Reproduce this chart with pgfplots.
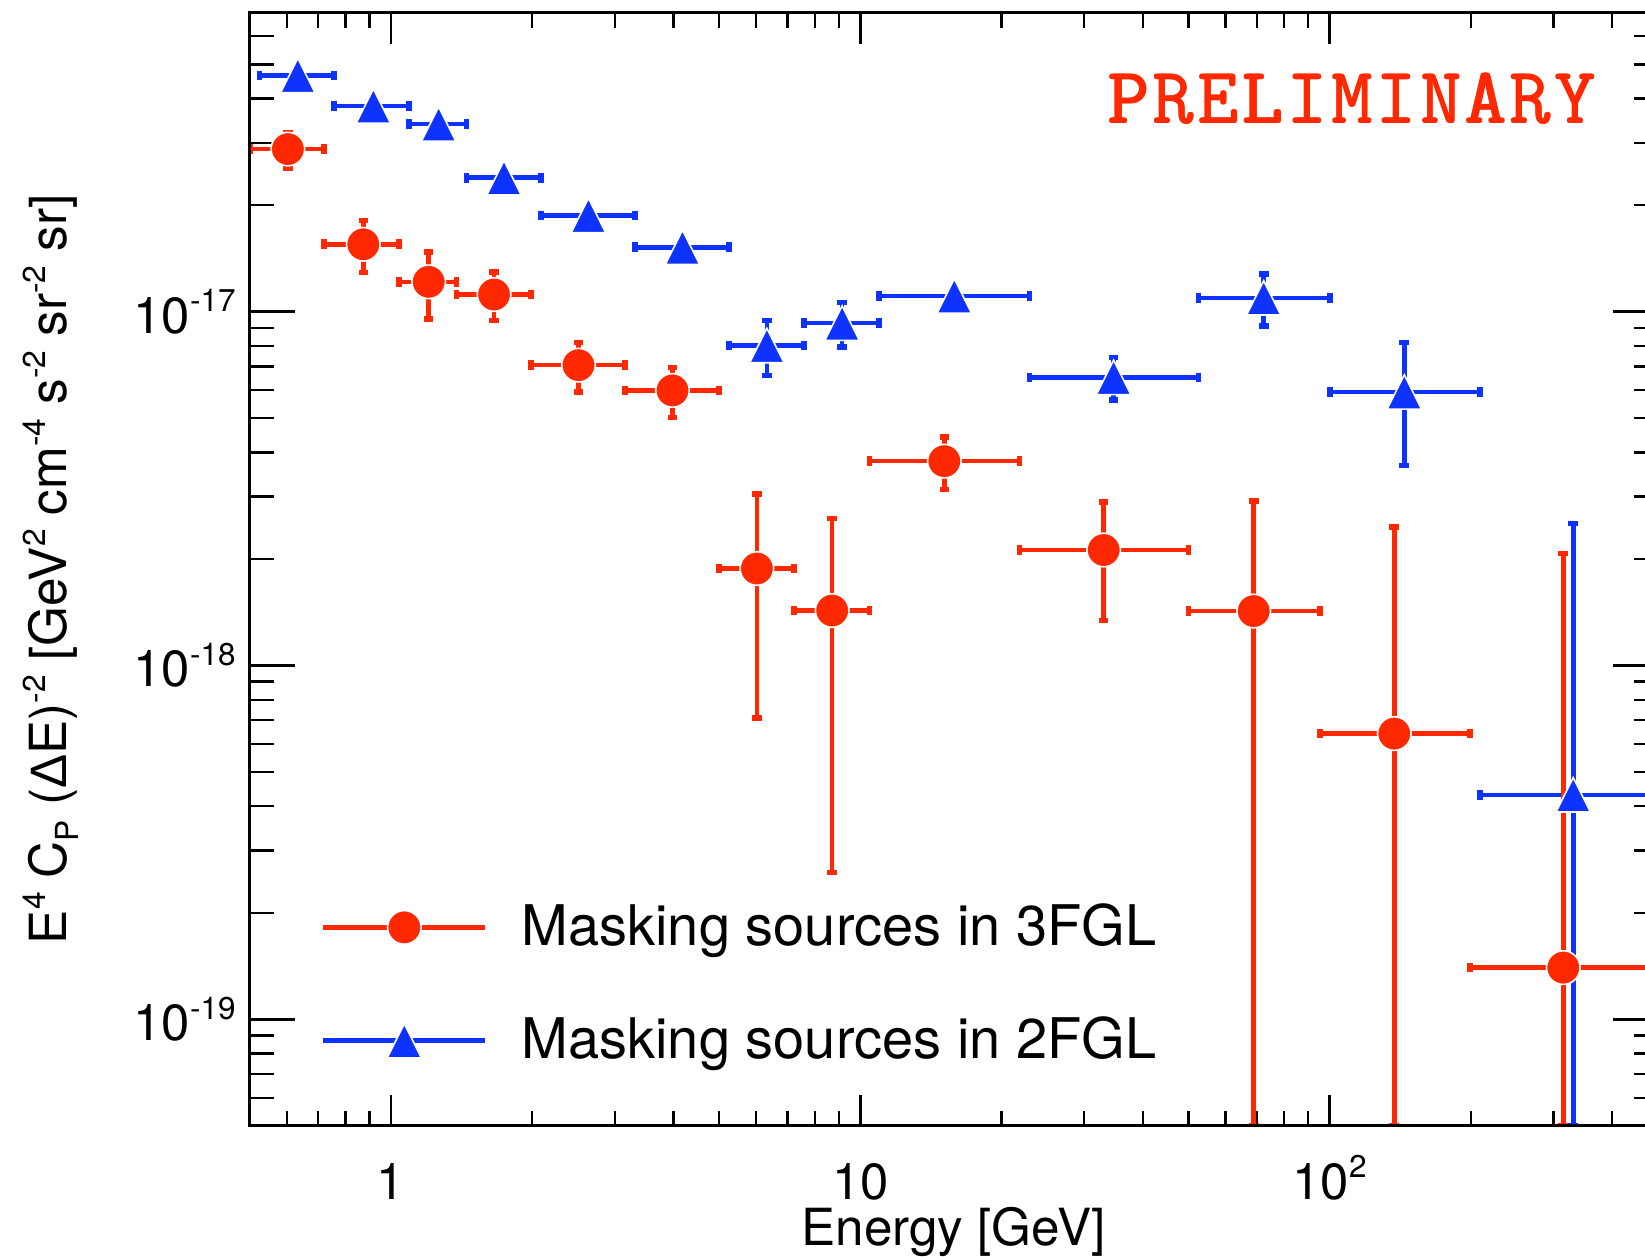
\documentclass[border=0pt]{standalone}
\usepackage{fontspec}
\setmainfont{TeX Gyre Heros}
\newfontfamily\grk{Liberation Sans}
\usepackage{pgfplots}
\pgfplotsset{compat=1.18}
\usepackage{pgfplotstable}

\definecolor{fgred}{HTML}{FF2800}
\definecolor{fgblue}{HTML}{0F33FF}

% superscript / subscript as in the IDL labels
\newcommand\su[1]{\raisebox{0.42em}{\scalebox{0.62}{#1}}}
\newcommand\sd[1]{\raisebox{-0.22em}{\scalebox{0.62}{#1}}}
\newcommand\ls{\kern0.96pt}
\newcommand\prelim{P\ls R\ls E\ls L\ls I\ls M\ls I\ls N\ls A\ls R\ls Y}

% triangle centred on the data point
\pgfdeclareplotmark{tri}{%
 \pgfpathmoveto{\pgfqpoint{0pt}{\pgfplotmarksize}}%
 \pgfpathlineto{\pgfqpoint{-\pgfplotmarksize}{-\pgfplotmarksize}}%
 \pgfpathlineto{\pgfqpoint{\pgfplotmarksize}{-\pgfplotmarksize}}%
 \pgfpathclose\pgfusepathqfillstroke}

% 3FGL mask
\pgfplotstableread{
x y exm exp eym eyp
0.603 2.88e-17 0.103 0.117 0.33e-17 0.33e-17
0.873 1.55e-17 0.153 0.167 0.26e-17 0.26e-17
1.203 1.214e-17 0.163 0.177 0.26e-17 0.26e-17
1.658 1.118e-17 0.278 0.332 0.175e-17 0.175e-17
2.509 7.06e-18 0.519 0.641 1.13e-18 1.13e-18
3.98 5.99e-18 0.83 1.02 0.97e-18 0.97e-18
6.02 1.88e-18 1.02 1.21 1.17e-18 1.17e-18
8.71 1.43e-18 1.48 1.74 1.17e-18 1.17e-18
15.1 3.78e-18 4.65 6.73 0.64e-18 0.64e-18
33.0 2.12e-18 11.17 17.0 0.78e-18 0.78e-18
68.9 1.425e-18 18.9 26.37 1.375e-18 1.49e-18
137.3 6.42e-19 42.03 61.75 5.92e-19 1.82e-18
314.6 1.40e-19 115.6 185.4 0.9e-19 1.93e-18
}\redtab

% 2FGL mask
\pgfplotstableread{
x y exm exp eym eyp
0.633 4.65e-17 0.108 0.123 0.15e-17 0.15e-17
0.917 3.81e-17 0.161 0.175 0.12e-17 0.12e-17
1.263 3.39e-17 0.171 0.186 0.11e-17 0.11e-17
1.741 2.39e-17 0.292 0.349 0.10e-17 0.10e-17
2.634 1.87e-17 0.545 0.674 0.08e-17 0.08e-17
4.179 1.52e-17 0.871 1.071 0.07e-17 0.07e-17
6.321 8.02e-18 1.071 1.271 1.42e-18 1.42e-18
9.146 9.28e-18 1.555 1.827 1.33e-18 1.33e-18
15.86 1.108e-17 4.888 7.062 0.05e-17 0.05e-17
34.65 6.52e-18 11.73 17.85 0.90e-18 0.90e-18
72.35 1.094e-17 19.85 27.68 1.82e-18 1.82e-18
144.2 5.93e-18 44.17 64.8 2.26e-18 2.26e-18
330.3 4.31e-19 121.3 194.7 3.81e-19 2.09e-18
}\bluetab

\pgfplotsset{
 legend image code/.code={\draw[mark repeat=2,mark phase=2,#1]
  plot coordinates {(0pt,0pt) (20.25pt,0pt) (40.5pt,0pt)};},
}

\begin{document}
\begin{tikzpicture}
\begin{axis}[
 at={(0,0)}, anchor=south west,
 scale only axis, width=352pt, height=278.3pt,
 xmode=log, ymode=log,
 xmin=0.5, xmax=500, ymin=5e-20, ymax=7e-17,
 axis line style={line width=0.75pt},
 tick style={black, line width=0.6pt},
 tick label style={font=\fontsize{12.7}{15}\selectfont},
 xmajorticks=false, xminorticks=false,
 major tick length=11.25pt, minor tick length=6pt,
 ytick={1e-19,1e-18,1e-17},
 yticklabels={10\su{-19},10\su{-18},10\su{-17}},
 minor ytick={6e-20,7e-20,8e-20,9e-20,2e-19,3e-19,4e-19,5e-19,6e-19,7e-19,8e-19,9e-19,2e-18,3e-18,4e-18,5e-18,6e-18,7e-18,8e-18,9e-18,2e-17,3e-17,4e-17,5e-17,6e-17},
 ylabel={E\su{4} C\sd{P} ({\grk Δ}E)\su{-2} [GeV\su{2} cm\su{-4} s\su{-2} sr\su{-2} sr]},
 ylabel style={at={(axis description cs:-0.1298,0.5)}, anchor=base,
  font=\fontsize{12.8}{15}\selectfont},
 legend cell align=left,
 legend style={draw=none, fill=none, inner sep=0pt,
  at={(0.050,0.1273)}, anchor=west,
  row sep=12.4pt, column sep=6.5pt,
  font=\fontsize{14}{16.8}\selectfont},
]
% blue first: the red series lies on top of it
\addplot[only marks, mark=tri, mark size=4.3pt,
 mark options={fill=fgblue, draw=white, line width=0.4pt}, forget plot,
 error bars/.cd, x dir=both, x explicit, y dir=both, y explicit,
 error bar style={fgblue, line width=1.15pt},
 error mark options={rotate=90, fgblue, line width=1.4pt, mark size=1.2pt}]
 table[x=x, y=y, x error minus=exm, x error plus=exp,
  y error minus=eym, y error plus=eyp] {\bluetab};
\addplot[only marks, mark=*, mark size=4.2pt,
 mark options={fill=fgred, draw=white, line width=0.4pt}, forget plot,
 error bars/.cd, x dir=both, x explicit, y dir=both, y explicit,
 error bar style={fgred, line width=1.15pt},
 error mark options={rotate=90, fgred, line width=1.4pt, mark size=1.2pt}]
 table[x=x, y=y, x error minus=exm, x error plus=exp,
  y error minus=eym, y error plus=eyp] {\redtab};

\addlegendimage{fgred, line width=1.2pt, mark=*, mark size=4.2pt,
 mark options={fill=fgred, draw=white, line width=0.4pt}}
\addlegendentry{Masking sources in 3FGL}
\addlegendimage{fgblue, line width=1.2pt, mark=tri, mark size=4.3pt,
 mark options={fill=fgblue, draw=white, line width=0.4pt}}
\addlegendentry{Masking sources in 2FGL}
\end{axis}

% second pass for the shorter x ticks and the x labels
\begin{axis}[
 at={(0,0)}, anchor=south west,
 scale only axis, width=352pt, height=278.3pt,
 xmode=log, ymode=log,
 xmin=0.5, xmax=500, ymin=5e-20, ymax=7e-17,
 axis line style={line width=0.75pt},
 tick style={black, line width=0.6pt},
 tick label style={font=\fontsize{12.7}{15}\selectfont},
 ymajorticks=false, yminorticks=false,
 major tick length=7.75pt, minor tick length=3.75pt,
 xtick={1,10,100}, xticklabels={1,10,10\su{2}},
 minor xtick={0.6,0.7,0.8,0.9,2,3,4,5,6,7,8,9,20,30,40,50,60,70,80,90,200,300,400},
 xticklabel style={anchor=base, yshift=-18.3pt},
 xlabel={Energy [GeV]},
 xlabel style={at={(axis description cs:0.5,0)}, anchor=base, yshift=-29.8pt,
  font=\fontsize{12.8}{15}\selectfont},
]
\node[anchor=base east, inner sep=0pt, text=fgred,
 font=\fontsize{19.8}{22}\selectfont\ttfamily]
 at (rel axis cs:0.9569,0.900)
 {\rlap{\prelim}\rlap{\raisebox{0.3pt}{\prelim}}\kern0.3pt\rlap{\raisebox{0.3pt}{\prelim}}\prelim};
\end{axis}

\pgfresetboundingbox
\path[use as bounding box] (-62.43pt,-32.57pt) rectangle (348.82pt,281.43pt);
\end{tikzpicture}
\end{document}
